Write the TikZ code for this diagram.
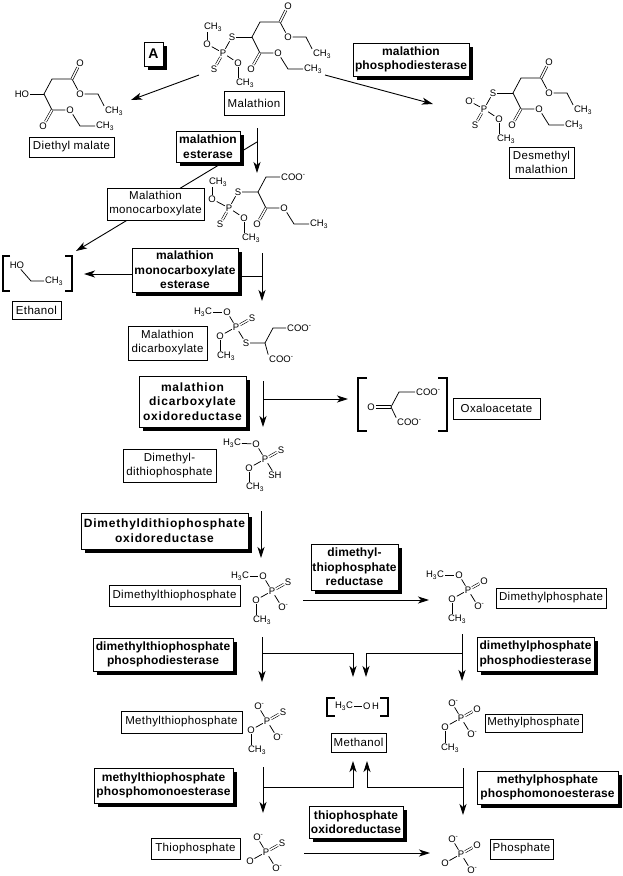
\documentclass[tikz,border=0pt]{standalone}
\usepackage{fontspec}
\setmainfont{Liberation Sans}
\newfontfamily\labelfont[LetterSpace=3]{Liberation Sans}
\newfontfamily\enzymefont[LetterSpace=1]{Liberation Sans}
\newfontfamily\widefont[LetterSpace=6.5]{Liberation Sans}
\usetikzlibrary{arrows.meta, backgrounds, shadows}

\newcommand{\chthree}{CH\textsubscript{3}}
\newcommand{\hthreec}{H\textsubscript{3}C}
\newcommand{\oxm}{O\rlap{\textsuperscript{-}}}
\newcommand{\coom}{COO\rlap{\textsuperscript{-}}}

% lower ester arm, #2 is the central carbon
\newcommand{\lowerester}[2]{
    \begin{scope}[shift={(#2)}, name prefix=#1-]
        \coordinate (c) at (0,0);
        \coordinate (cl) at (8,16);
        \coordinate (cle) at (36,32);
        \node[atom] (ocl) at (-1,32) {O};
        \node[atom] (ol) at (26,16) {O};
        \node[atom] (chl) at (61,32) {\chthree};
        \draw[bond] (c) -- (cl) -- (ol) -- (cle) -- (chl);
        \draw[dbl] (cl) -- (ocl);
    \end{scope}
}
% upper ester arm
\newcommand{\upperester}[2]{
    \begin{scope}[shift={(#2)}, name prefix=#1-]
        \coordinate (c) at (0,0);
        \coordinate (cm) at (8,-15);
        \coordinate (cu) at (28,-15);
        \coordinate (cue) at (54,0);
        \node[atom] (ocu) at (36,-31) {O};
        \node[atom] (ou) at (36,0) {O};
        \node[atom] (chu) at (70,17) {\chthree};
        \draw[bond] (c) -- (cm) -- (cu) -- (ou) -- (cue) -- (chu.north west);
        \draw[dbl] (cu) -- (ocu);
    \end{scope}
}
% thiophosphate on S, #2 is the S that holds it to the chain
\newcommand{\thioester}[2]{
    \begin{scope}[shift={(#2)}, name prefix=#1-]
        \node[atom] (s) at (0,0) {S};
        \node[atom] (p) at (-9,16) {P};
        \node[atom] (sd) at (-18,32) {S};
        \node[atom] (or) at (6,26) {O};
        \node[atom] (chr) at (13,46) {\chthree};
        \draw[bond] (s) -- (p) -- (or);
        \draw[bond] (or) -- (or |- chr.north);
        \draw[dbl] (p) -- (sd);
    \end{scope}
}
% phosphate centre with its four arms, #2 is the P
\newcommand{\phosgroup}[6]{
    \begin{scope}[shift={(#2)}, name prefix=#1-]
        \node[atom] (p) at (0,0) {P};
        \node[atom] (top) at (-9,-15) {#3};
        \node[atom] (dd) at (16,-9) {#4};
        \node[atom] (lft) at (-16,9) {#5};
        \node[atom] (rgt) at (10,16) {#6};
        \draw[bond] (top) -- (p) -- (lft);
        \draw[bond] (p) -- (rgt);
        \draw[dbl] (p) -- (dd);
    \end{scope}
}

\tikzset{
    atom/.style={font=\fontsize{9.5}{10}\selectfont, inner sep=0.8pt},
    bond/.style={line width=0.75pt},
    dbl/.style={line width=0.6pt, double, double distance=1.5pt},
    labelbox/.style={draw, fill=white, line width=0.9pt, inner sep=0pt, align=center,
        font=\fontsize{11.5}{14}\labelfont},
    enzyme/.style={draw, fill=white, line width=0.9pt, inner sep=0pt, align=center,
        font=\fontsize{12}{14.6}\enzymefont\bfseries,
        drop shadow={shadow xshift=4pt, shadow yshift=-4pt, fill=black, opacity=1}},
    widezyme/.style={enzyme, font=\fontsize{12}{14.6}\widefont\bfseries},
    path/.style={line width=0.9pt},
    arrow/.style={line width=0.9pt, -{Stealth[length=11pt, width=7pt, inset=3pt]}},
    bracket/.style={line width=2.5pt}
}

\begin{document}
\begin{tikzpicture}[x=1pt, y=-1pt]
    \useasboundingbox (0,0) rectangle (622,876);

    \node[enzyme, minimum width=19, minimum height=24, font=\fontsize{14}{14}\selectfont\bfseries] (tagA) at (153.5,54) {A};

    % Malathion
    \upperester{mal}{252,37}
    \lowerester{mal}{252,37}
    \thioester{mal}{232,37}
    \node[atom] (mal-ol) at (207,44) {O};
    \node[atom] (mal-chl2) at (213,27) {\chthree};
    \draw[bond] (mal-s) -- (mal-c);
    \draw[bond] (mal-ol) -- (mal-p);
    \draw[bond] (mal-ol) -- (mal-ol |- mal-chl2.south);
    \node[labelbox, minimum width=60, minimum height=24] (malathion) at (254,103) {Malathion};

    % Diethyl malate
    \upperester{dem}{44,94}
    \lowerester{dem}{44,94}
    \node[atom] (dem-ho) at (22,94) {HO};
    \draw[bond] (dem-ho) -- (dem-c);
    \node[labelbox, minimum width=85, minimum height=20] (diethyl) at (71.5,147) {Diethyl malate};

    % Desmethyl malathion
    \upperester{des}{513,93}
    \lowerester{des}{513,93}
    \thioester{des}{493,93}
    \node[atom] (des-ol) at (469,101) {\oxm};
    \draw[bond] (des-s) -- (des-c);
    \draw[bond] (des-ol) -- (des-p);
    \node[labelbox, minimum width=65, minimum height=31] (desmethyl) at (541.5,162.5) {Desmethyl\\malathion};

    \node[enzyme, minimum width=116, minimum height=33] (phosphodi) at (411,59.5) {malathion\\phosphodiesterase};
    \node[enzyme, minimum width=64, minimum height=31] (esterase) at (208,146.5) {malathion\\esterase};

    % Malathion monocarboxylate
    \thioester{mon}{238,192}
    \lowerester{mon}{258,192}
    \node[atom] (mon-ol) at (212,199) {O};
    \node[atom] (mon-chl2) at (218,182) {\chthree};
    \coordinate (mon-cm) at (266,177);
    \node[atom] (mon-coo) at (292,177) {\coom};
    \draw[bond] (mon-s) -- (mon-c) -- (mon-cm) -- (mon-coo);
    \draw[bond] (mon-ol) -- (mon-p);
    \draw[bond] (mon-ol) -- (mon-ol |- mon-chl2.south);
    \node[labelbox, minimum width=97, minimum height=32] (monocarb) at (155.5,204) {Malathion\\monocarboxylate};

    % Ethanol
    \node[atom] (eth-ho) at (17,265) {HO};
    \coordinate (eth-c) at (31,281);
    \node[atom] (eth-ch) at (54,281) {\chthree};
    \draw[bond] (eth-ho) -- (eth-c) -- (eth-ch);
    \draw[bracket] (10,256) -- (3,256) -- (3,291) -- (10,291);
    \draw[bracket] (65,256) -- (72,256) -- (72,291) -- (65,291);
    \node[labelbox, minimum width=49, minimum height=18] (ethanol) at (36.5,310) {Ethanol};

    \node[enzyme, minimum width=106, minimum height=44] (monoest) at (185,270) {malathion\\monocarboxylate\\esterase};

    % Malathion dicarboxylate
    \phosgroup{dic}{236,327}{O}{S}{O}{S}
    \node[atom] (dic-hc) at (203,312) {\hthreec};
    \node[atom] (dic-chl) at (226,356) {\chthree};
    \coordinate (dic-c) at (265,343);
    \coordinate (dic-cm) at (273,328);
    \node[atom] (dic-coou) at (298,328) {\coom};
    \node[atom] (dic-cool) at (280,359) {\coom};
    \draw[bond] (dic-hc) -- (dic-top);
    \draw[bond] (dic-lft) -- (dic-lft |- dic-chl.north);
    \draw[bond] (dic-rgt) -- (dic-c) -- (dic-cm) -- (dic-coou);
    \draw[bond] (dic-c) -- (dic-cool.north west);
    \node[labelbox, minimum width=79, minimum height=34] (dicarb) at (167.5,343) {Malathion\\dicarboxylate};

    \node[widezyme, minimum width=107, minimum height=51] (dicox) at (192.5,401.5) {malathion\\dicarboxylate\\oxidoreductase};

    % Oxaloacetate
    \node[atom] (oxa-o) at (371,407) {O};
    \coordinate (oxa-c) at (391,407);
    \coordinate (oxa-cm) at (399,392);
    \node[atom] (oxa-coou) at (427,392) {\coom};
    \node[atom] (oxa-cool) at (408,422) {\coom};
    \draw[bond] ([yshift=1.2pt]oxa-o.east) -- ([yshift=1.2pt]oxa-c);
    \draw[bond] ([yshift=-1.2pt]oxa-o.east) -- ([yshift=-1.2pt]oxa-c);
    \draw[bond] (oxa-c) -- (oxa-cm) -- (oxa-coou);
    \draw[bond] (oxa-c) -- (oxa-cool.north west);
    \draw[bracket] (367,378) -- (358,378) -- (358,431) -- (367,431);
    \draw[bracket] (438,378) -- (447,378) -- (447,431) -- (438,431);
    \node[labelbox, minimum width=87, minimum height=21] (oxaloacetate) at (496.5,408.5) {Oxaloacetate};

    % Dimethyldithiophosphate
    \phosgroup{dtp}{265,459}{O}{S}{O}{SH}
    \node[atom] (dtp-hc) at (232,443) {\hthreec};
    \node[atom] (dtp-chl) at (255,487) {\chthree};
    \draw[bond] (dtp-hc) -- (dtp-top);
    \draw[bond] (dtp-lft) -- (dtp-lft |- dtp-chl.north);
    \node[labelbox, minimum width=93, minimum height=33] (dithio) at (169.5,465.5) {Dimethyl-\\dithiophosphate};

    \node[widezyme, minimum width=167, minimum height=36] (dtpox) at (164.5,531) {Dimethyldithiophosphate\\oxidoreductase};

    % Dimethylthiophosphate
    \phosgroup{dtm}{272,591}{O}{S}{O}{\oxm}
    \node[atom] (dtm-hc) at (240,576) {\hthreec};
    \node[atom] (dtm-chl) at (262,620) {\chthree};
    \draw[bond] (dtm-hc) -- (dtm-top);
    \draw[bond] (dtm-lft) -- (dtm-lft |- dtm-chl.north);
    \node[labelbox, minimum width=131, minimum height=21] (dmthio) at (174.5,595.5) {Dimethylthiophosphate};

    \node[enzyme, minimum width=87, minimum height=46] (dtmred) at (354.5,567) {dimethyl-\\thiophosphate\\reductase};

    % Dimethylphosphate
    \phosgroup{dmp}{468,590}{O}{O}{O}{\oxm}
    \node[atom] (dmp-hc) at (435,575) {\hthreec};
    \node[atom] (dmp-chl) at (457,619) {\chthree};
    \draw[bond] (dmp-hc) -- (dmp-top);
    \draw[bond] (dmp-lft) -- (dmp-lft |- dmp-chl.north);
    \node[labelbox, minimum width=110, minimum height=20] (dmphos) at (551,598) {Dimethylphosphate};

    \node[enzyme, minimum width=140, minimum height=33] (dtmdi) at (163,654.5) {dimethylthiophosphate\\phosphodiesterase};
    \node[enzyme, minimum width=117, minimum height=34] (dmpdi) at (535.5,654) {dimethylphosphate\\phosphodiesterase};

    % Methanol
    \node[atom] (met-hc) at (344,706) {\hthreec};
    \node[atom] (met-oh) at (371,706) {O\,H};
    \draw[bond] (met-hc) -- (met-oh);
    \draw[bracket] (335,698) -- (327,698) -- (327,716) -- (335,716);
    \draw[bracket] (380,698) -- (388,698) -- (388,716) -- (380,716);
    \node[labelbox, minimum width=55, minimum height=19] (methanol) at (358.5,742.5) {Methanol};

    % Methylthiophosphate
    \phosgroup{mtp}{267,721}{\oxm}{S}{O}{\oxm}
    \node[atom] (mtp-chl) at (257,750) {\chthree};
    \draw[bond] (mtp-lft) -- (mtp-lft |- mtp-chl.north);
    \node[labelbox, minimum width=121, minimum height=22] (mthio) at (181.5,722) {Methylthiophosphate};

    % Methylphosphate
    \phosgroup{mph}{461,718}{\oxm}{O}{O}{\oxm}
    \node[atom] (mph-chl) at (450,748) {\chthree};
    \draw[bond] (mph-lft) -- (mph-lft |- mph-chl.north);
    \node[labelbox, minimum width=97, minimum height=18] (mphos) at (533.5,723) {Methylphosphate};

    \node[enzyme, minimum width=139, minimum height=35] (mtpmono) at (163.5,785.5) {methylthiophosphate\\phosphomonoesterase};
    \node[enzyme, minimum width=141, minimum height=33] (mphmono) at (547.5,787.5) {methylphosphate\\phosphomonoesterase};
    \node[enzyme, minimum width=94, minimum height=32] (tpox) at (356,822) {thiophosphate\\oxidoreductase};

    % Thiophosphate and phosphate
    \phosgroup{thp}{266,852}{\oxm}{S}{\oxm}{\oxm}
    \node[labelbox, minimum width=89, minimum height=21] (thio) at (195.5,848.5) {Thiophosphate};
    \phosgroup{pho}{461,854}{\oxm}{O}{\oxm}{\oxm}
    \node[labelbox, minimum width=63, minimum height=20] (phosphate) at (521.5,849) {Phosphate};

    % free ends of the arrows
    \coordinate (malL) at (199,75);
    \coordinate (malLend) at (131,100);
    \coordinate (malR) at (325,75);
    \coordinate (malRend) at (433,104);
    \coordinate (estTop) at (257,128);
    \coordinate (estBranch) at (257,142);
    \coordinate (estEnd) at (257,173);
    \coordinate (ethEnd) at (76,251);
    \coordinate (monTop) at (262,253);
    \coordinate (monBranch) at (262,276);
    \coordinate (monEnd) at (262,301);
    \coordinate (ethIn) at (84,274);
    \coordinate (dicTop) at (263,381);
    \coordinate (dicEnd) at (263,427);
    \coordinate (oxaStart) at (264,399);
    \coordinate (oxaEnd) at (348,399);
    \coordinate (dtpTop) at (261,511);
    \coordinate (dtpEnd) at (261,558);
    \coordinate (redStart) at (303,600);
    \coordinate (redEnd) at (429,600);
    \coordinate (tdiTop) at (262,637);
    \coordinate (tdiBranch) at (262,653);
    \coordinate (tdiEnd) at (262,682);
    \coordinate (mohL) at (353,677);
    \coordinate (pdiTop) at (462,634);
    \coordinate (pdiBranch) at (462,653);
    \coordinate (pdiEnd) at (462,681);
    \coordinate (mohR) at (366,677);
    \coordinate (tmoTop) at (263,767);
    \coordinate (tmoBranch) at (263,787);
    \coordinate (tmoEnd) at (263,813);
    \coordinate (meoL) at (353,761);
    \coordinate (pmoTop) at (463,768);
    \coordinate (pmoBranch) at (463,787);
    \coordinate (pmoEnd) at (463,815);
    \coordinate (meoR) at (367,761);
    \coordinate (tpStart) at (304,853);
    \coordinate (tpEnd) at (430,853);

    % arrows run under the boxes
    \begin{scope}[on background layer]
        \draw[arrow] (malL) -- (malLend);
        \draw[arrow] (malR) -- (malRend);
        \draw[arrow] (estTop) -- (estEnd);
        \draw[arrow] (estBranch) -- (ethEnd);
        \draw[arrow] (monTop) -- (monEnd);
        \draw[path] (monoest.east |- monBranch) -- (monBranch);
        \draw[arrow] (monoest.west |- ethIn) -- (ethIn);
        \draw[arrow] (dicTop) -- (dicEnd);
        \draw[arrow] (oxaStart) -- (oxaEnd);
        \draw[arrow] (dtpTop) -- (dtpEnd);
        \draw[arrow] (redStart) -- (redEnd);
        \draw[arrow] (tdiTop) -- (tdiEnd);
        \draw[arrow] (tdiBranch) -| (mohL);
        \draw[arrow] (pdiTop) -- (pdiEnd);
        \draw[arrow] (pdiBranch) -| (mohR);
        \draw[arrow] (tmoTop) -- (tmoEnd);
        \draw[arrow] (tmoBranch) -| (meoL);
        \draw[arrow] (pmoTop) -- (pmoEnd);
        \draw[arrow] (pmoBranch) -| (meoR);
        \draw[arrow] (tpStart) -- (tpEnd);
    \end{scope}
\end{tikzpicture}
\end{document}
